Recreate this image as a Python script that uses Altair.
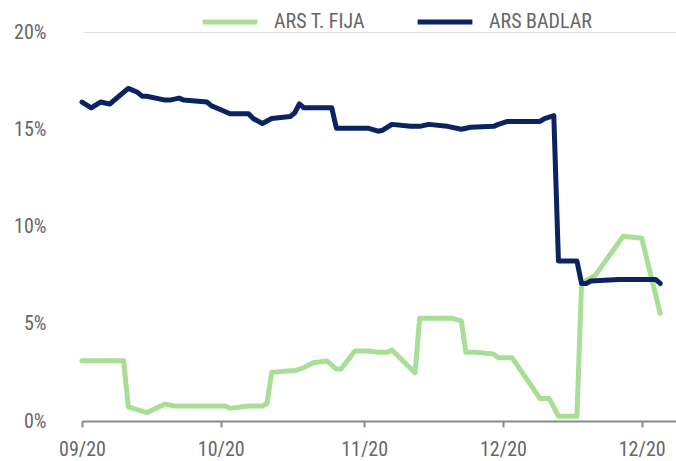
import altair as alt
import pandas as pd

# Tasa fija (ARS T. FIJA) series
fija_dates = [
    "2020-09-01", "2020-09-10", "2020-09-11", "2020-09-15", "2020-09-19", "2020-09-21",
    "2020-10-02", "2020-10-03", "2020-10-07", "2020-10-10", "2020-10-11", "2020-10-12",
    "2020-10-16", "2020-10-17", "2020-10-19", "2020-10-21", "2020-10-24", "2020-10-26",
    "2020-10-27", "2020-10-30", "2020-11-02", "2020-11-04", "2020-11-06", "2020-11-07",
    "2020-11-12", "2020-11-13", "2020-11-20", "2020-11-22", "2020-11-23", "2020-11-25",
    "2020-11-29", "2020-11-30", "2020-12-03", "2020-12-09", "2020-12-11", "2020-12-13",
    "2020-12-17", "2020-12-18", "2020-12-21", "2020-12-27", "2020-12-31", "2021-01-04",
]
fija_values = [
    3.10, 3.10, 0.73, 0.43, 0.87, 0.77,
    0.77, 0.65, 0.77, 0.77, 0.90, 2.50,
    2.58, 2.58, 2.75, 3.00, 3.08, 2.67,
    2.67, 3.60, 3.60, 3.53, 3.53, 3.65,
    2.48, 5.28, 5.28, 5.15, 3.53, 3.53,
    3.44, 3.25, 3.25, 1.16, 1.16, 0.25,
    0.25, 7.07, 7.50, 9.50, 9.40, 5.53,
]

# BADLAR series
badlar_dates = [
    "2020-09-01", "2020-09-03", "2020-09-05", "2020-09-07", "2020-09-11", "2020-09-13",
    "2020-09-14", "2020-09-15", "2020-09-19", "2020-09-20", "2020-09-22", "2020-09-23",
    "2020-09-28", "2020-09-29", "2020-10-01", "2020-10-03", "2020-10-07", "2020-10-08",
    "2020-10-10", "2020-10-12", "2020-10-16", "2020-10-17", "2020-10-18", "2020-10-19",
    "2020-10-25", "2020-10-26", "2020-11-02", "2020-11-04", "2020-11-05", "2020-11-07",
    "2020-11-11", "2020-11-13", "2020-11-15", "2020-11-19", "2020-11-22", "2020-11-24",
    "2020-11-29", "2020-11-30", "2020-12-02", "2020-12-09", "2020-12-10", "2020-12-12",
    "2020-12-13", "2020-12-17", "2020-12-18", "2020-12-19", "2020-12-20", "2020-12-26",
    "2021-01-03", "2021-01-04",
]
badlar_values = [
    16.40, 16.10, 16.40, 16.30, 17.10, 16.90,
    16.70, 16.70, 16.50, 16.50, 16.60, 16.50,
    16.40, 16.20, 16.00, 15.80, 15.80, 15.55,
    15.30, 15.55, 15.65, 15.85, 16.30, 16.10,
    16.10, 15.05, 15.05, 14.90, 14.95, 15.25,
    15.15, 15.15, 15.25, 15.15, 15.00, 15.10,
    15.15, 15.25, 15.40, 15.40, 15.55, 15.70,
    8.23, 8.23, 7.07, 7.07, 7.20, 7.28,
    7.28, 7.07,
]

series_names = ["ARS T. FIJA", "ARS BADLAR"]
series_colors = ["#a9de96", "#0b2361"]
y_ticks = [0, 5, 10, 15, 20]

fija = pd.DataFrame({"fecha": fija_dates, "tasa": fija_values, "serie": series_names[0]})
badlar = pd.DataFrame({"fecha": badlar_dates, "tasa": badlar_values, "serie": series_names[1]})

FONT = "Roboto Condensed, Liberation Sans Narrow, Roboto, sans-serif"
LABEL_COLOR = "#666666"
AXIS_COLOR = "#8a8a8a"

x_ticks = [
    alt.DateTime(year=2020, month=9, date=1, utc=True),
    alt.DateTime(year=2020, month=10, date=1, utc=True),
    alt.DateTime(year=2020, month=11, date=1, utc=True),
    alt.DateTime(year=2020, month=12, date=1, utc=True),
    alt.DateTime(year=2020, month=12, date=31, utc=True),
]

x_enc = alt.X(
    "fecha:T",
    title=None,
    scale=alt.Scale(
        type="utc",
        domain=[
            alt.DateTime(year=2020, month=9, date=1, utc=True),
            alt.DateTime(year=2021, month=1, date=7, hours=10, utc=True),
        ],
    ),
    axis=alt.Axis(
        values=x_ticks,
        labelExpr="utcFormat(datum.value, '%m/%y')",
        grid=False,
        domain=True,
        domainColor=AXIS_COLOR,
        domainWidth=2,
        ticks=True,
        tickColor=AXIS_COLOR,
        tickWidth=2,
        tickSize=6,
        labelPadding=12,
        labelFont=FONT,
        labelFontSize=20,
        labelColor=LABEL_COLOR,
        labelFlush=False,
        labelOverlap=False,
        zindex=1,
    ),
)

# Y axis: labels only; its domain line is painted in the background colour
y_enc = alt.Y(
    "tasa:Q",
    title=None,
    scale=alt.Scale(domain=[0, 20], nice=False),
    axis=alt.Axis(
        values=y_ticks,
        labelExpr="datum.value + '%'",
        grid=False,
        domain=True,
        domainColor="white",
        domainWidth=4,
        ticks=False,
        labelPadding=36,
        labelFont=FONT,
        labelFontSize=20,
        labelColor=LABEL_COLOR,
        zindex=0,
    ),
)

color_enc = alt.Color(
    "serie:N",
    scale=alt.Scale(domain=series_names, range=series_colors),
    legend=alt.Legend(
        title=None,
        orient="none",
        direction="horizontal",
        legendX=118,
        legendY=-40,
        symbolType="stroke",
        symbolSize=3000,
        symbolStrokeWidth=5,
        labelOffset=14,
        columnPadding=42,
        labelFont=FONT,
        labelFontSize=20,
        labelColor=LABEL_COLOR,
        padding=0,
    ),
)

line_style = dict(strokeWidth=5, strokeCap="round", strokeJoin="round")

fija_line = alt.Chart(fija).mark_line(**line_style).encode(x=x_enc, y=y_enc, color=color_enc)
badlar_line = alt.Chart(badlar).mark_line(**line_style).encode(x=x_enc, y=y_enc, color=color_enc)

chart = (
    alt.layer(fija_line, badlar_line)
    .properties(
        width=594,
        height=389,
        autosize=alt.AutoSizeParams(type="none"),
        padding={"left": 82, "top": 32, "right": 0, "bottom": 40},
    )
    .configure_view(stroke=None)
    .configure(background="white")
)

chart.save("out.html", embed_options={"renderer": "svg", "actions": False})
